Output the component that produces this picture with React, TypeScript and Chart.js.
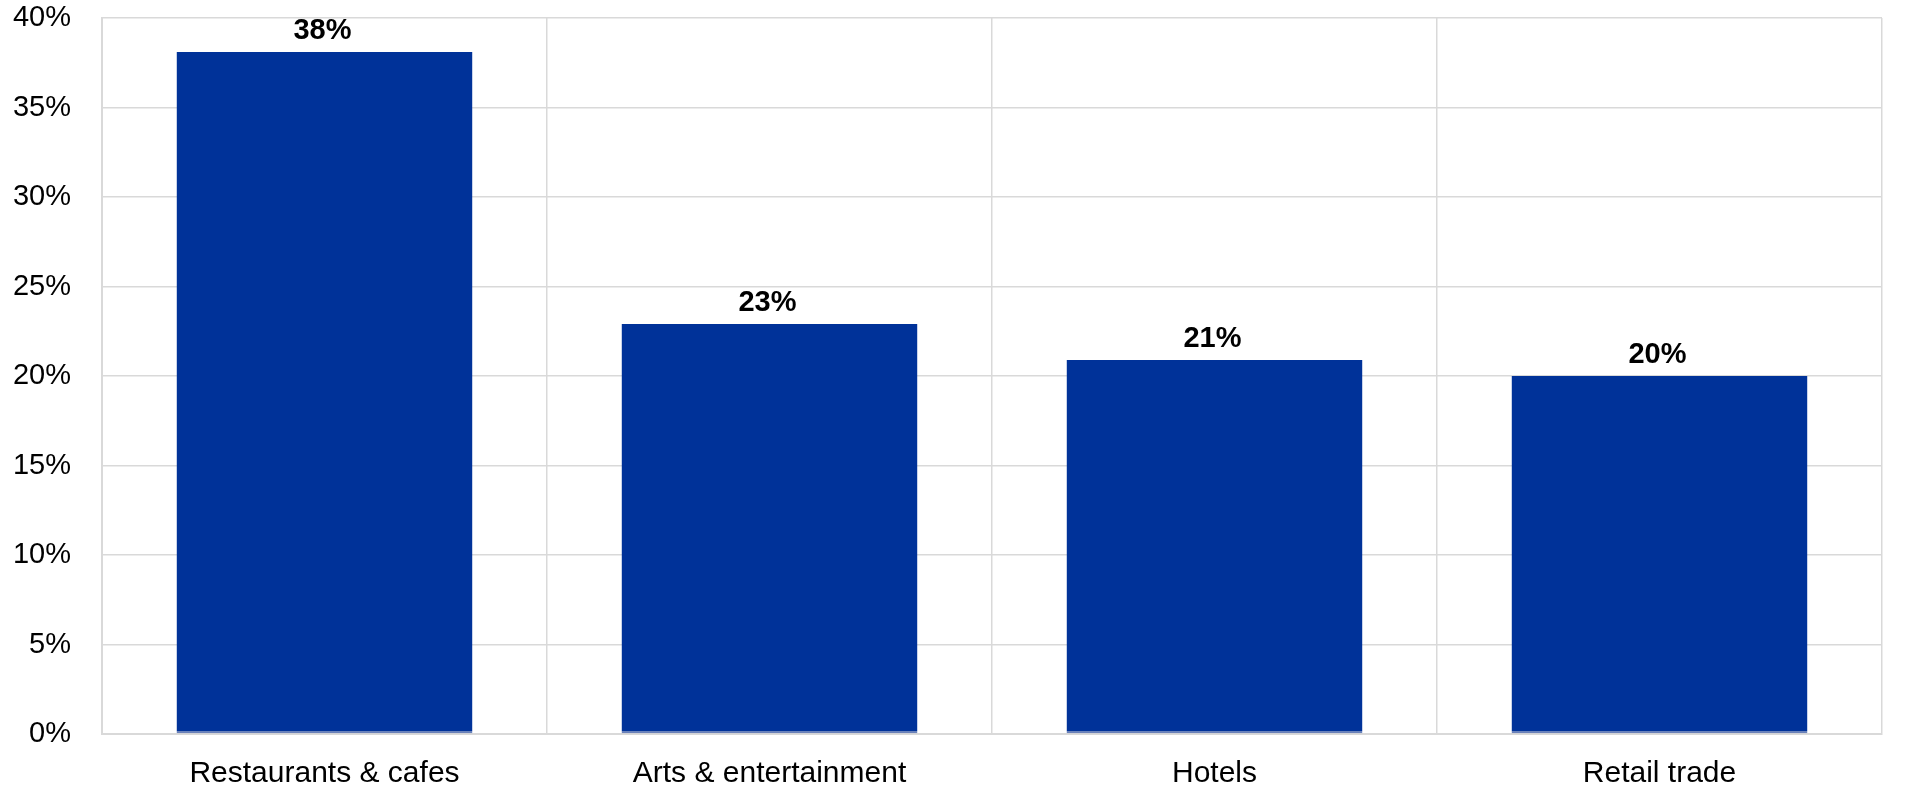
import React, { useEffect, useRef } from "react";
import { Chart, registerables } from "chart.js";

Chart.register(...registerables);

const categories = ["Restaurants & cafes", "Arts & entertainment", "Hotels", "Retail trade"];
const values = [38.1, 22.9, 20.9, 20.0];
const valueLabels = ["38%", "23%", "21%", "20%"];
const yTicks = [0, 5, 10, 15, 20, 25, 30, 35, 40];

const FONT = "'Liberation Sans', Arial, sans-serif";
const BAR_COLOR = "#003299";
const GRID_COLOR = "#d9d9d9";

const valueLabelPlugin = {
  id: "valueLabels",
  afterDatasetsDraw(chart: any) {
    const ctx = chart.ctx;
    const meta = chart.getDatasetMeta(0);
    ctx.save();
    ctx.font = `bold 29px ${FONT}`;
    ctx.fillStyle = "#000";
    ctx.textAlign = "center";
    ctx.textBaseline = "alphabetic";
    meta.data.forEach((bar: any, i: number) => {
      ctx.fillText(valueLabels[i], bar.x - 2, bar.y - 13);
    });
    ctx.restore();
  },
};

export default function App() {
  const canvasRef = useRef<HTMLCanvasElement | null>(null);

  useEffect(() => {
    document.body.style.margin = "0";
    const canvas = canvasRef.current;
    if (!canvas) return;
    const chart = new Chart(canvas, {
      type: "bar",
      data: {
        labels: categories,
        datasets: [
          {
            data: values,
            backgroundColor: BAR_COLOR,
            borderColor: "#6a80b8",
            borderWidth: { top: 0, left: 0, right: 0, bottom: 2 },
            borderSkipped: false,
            categoryPercentage: 1,
            barPercentage: 0.665,
          },
        ],
      },
      options: {
        animation: false,
        responsive: false,
        maintainAspectRatio: false,
        layout: { padding: { left: 0, right: 26, top: 18, bottom: 0 } },
        plugins: {
          legend: { display: false },
          tooltip: { enabled: false },
        },
        scales: {
          x: {
            afterFit: (axis: any) => {
              axis.height = 62;
              axis.paddingLeft = 0;
              axis.paddingRight = 0;
            },
            grid: { color: GRID_COLOR, offset: true, drawTicks: false, lineWidth: 1.5 },
            border: { color: GRID_COLOR, width: 2 },
            ticks: {
              color: "#000",
              font: { family: FONT, size: 30 },
              padding: 22,
              maxRotation: 0,
            },
          },
          y: {
            min: 0,
            max: 40,
            afterBuildTicks: (axis: any) => {
              axis.ticks = yTicks.map((v) => ({ value: v }));
            },
            afterFit: (axis: any) => {
              axis.width = 102;
              axis.paddingTop = 0;
              axis.paddingBottom = 0;
            },
            grid: { color: GRID_COLOR, drawTicks: false, lineWidth: 1.5 },
            border: { color: GRID_COLOR, width: 2 },
            ticks: {
              color: "#000",
              font: { family: FONT, size: 29 },
              padding: 31,
              callback: (v: any) => `${v}%`,
            },
          },
        },
      },
      plugins: [valueLabelPlugin],
    });
    return () => chart.destroy();
  }, []);

  return (
    <div style={{ width: 1908, height: 796, background: "#fff" }}>
      <canvas ref={canvasRef} width={1908} height={796} style={{ display: "block" }} />
    </div>
  );
}
